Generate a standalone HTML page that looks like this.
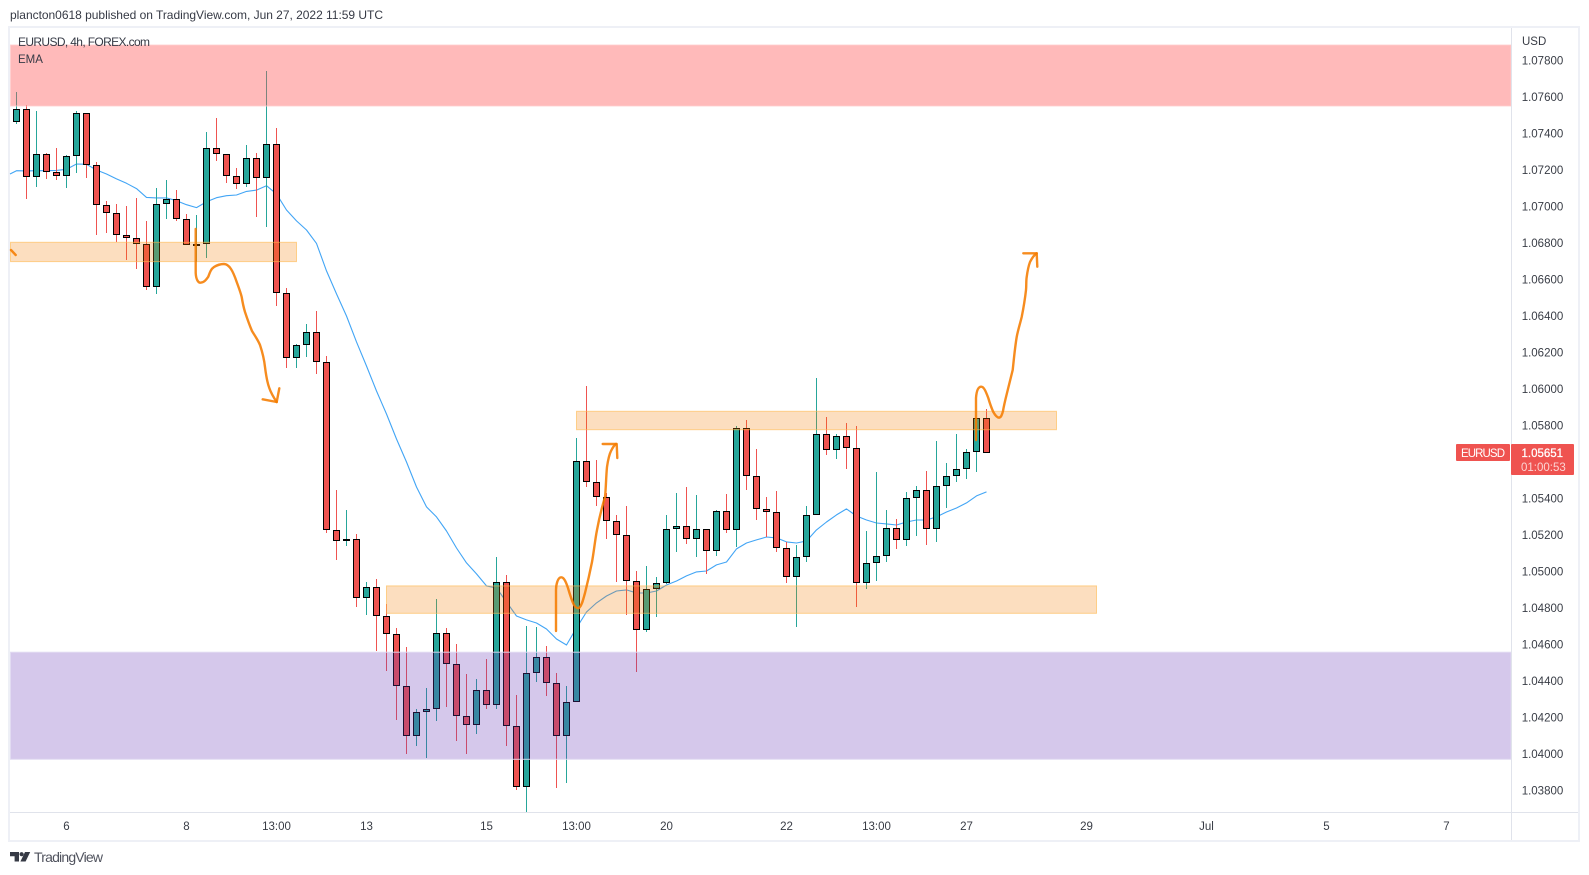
<!DOCTYPE html>
<html lang="en">
<head>
<meta charset="utf-8">
<title>EURUSD 4h chart</title>
<style>
html,body{margin:0;padding:0;background:#fff;}
body{width:1589px;height:875px;overflow:hidden;position:relative;font-family:"Liberation Sans",sans-serif;color:#131722;}
#stage{position:absolute;left:0;top:0;width:1589px;height:875px;}
</style>
</head>
<body>
<svg id="stage" xmlns="http://www.w3.org/2000/svg" width="1589" height="875" viewBox="0 0 1589 875" font-family="'Liberation Sans',sans-serif">
  <rect x="9" y="27" width="1570" height="814" fill="#fff" stroke="#eef0f6" stroke-width="2"/>
  <g id="pane"></g>
  <line x1="1511.5" y1="28" x2="1511.5" y2="840" stroke="#e0e3eb"/>
  <line x1="10" y1="812.5" x2="1578" y2="812.5" stroke="#e0e3eb"/>
  <g id="priceAxis"></g>
  <g id="timeAxis"></g>
  <text x="10" y="19" font-size="12" fill="#363a45" textLength="373" lengthAdjust="spacing">plancton0618 published on TradingView.com, Jun 27, 2022 11:59 UTC</text>
  <text x="18" y="46" font-size="12" fill="#363a45" textLength="132" lengthAdjust="spacing">EURUSD, 4h, FOREX.com</text>
  <text x="18" y="63" font-size="11.5" fill="#363a45">EMA</text>
  <text x="1522" y="45" font-size="11.5" fill="#131722" fill-opacity="0.85">USD</text>
  <g>
    <rect x="1456" y="444" width="54" height="17" rx="1" fill="#ef5350"/>
    <text x="1483" y="457" font-size="11.5" fill="#fff" text-anchor="middle" textLength="44" lengthAdjust="spacing">EURUSD</text>
  </g>
  <g>
    <rect x="1511" y="444" width="63" height="31" rx="1" fill="#ef5350"/>
    <text x="1521.5" y="457" font-size="11.5" fill="#fff" stroke="#fff" stroke-width="0.25">1.05651</text>
    <text x="1521" y="471" font-size="11.5" fill="#fbd4d3">01:00:53</text>
  </g>
  <g>
    <path d="M10 852h9v9.5h-4.4v-5.2H10z" fill="#363a45"/>
    <circle cx="21.6" cy="854.2" r="2.1" fill="#363a45"/>
    <path d="M25 852h5.2l-4.6 9.5h-5.2z" fill="#363a45"/>
    <text x="34" y="862" font-size="14" fill="#50535e" textLength="69" lengthAdjust="spacing">TradingView</text>
  </g>
</svg>
<script>
var barOpens=[1.07461,1.07533,1.07160,1.07286,1.07187,1.07166,1.07275,1.07511,1.07226,1.07007,1.06963,1.06842,1.06830,1.06793,1.06557,1.07012,1.07040,1.06930,1.06788,1.06793,1.07319,1.07286,1.07166,1.07122,1.07264,1.07155,1.07341,1.06525,1.06168,1.06240,1.06311,1.06146,1.05226,1.05166,1.05177,1.04853,1.04914,1.04755,1.04656,1.04371,1.04097,1.04229,1.04245,1.04662,1.04492,1.04207,1.04158,1.04349,1.04267,1.04941,1.04152,1.03818,1.04443,1.04530,1.04388,1.04097,1.04284,1.05604,1.05489,1.05407,1.05275,1.05199,1.04947,1.04678,1.04903,1.04936,1.05232,1.05248,1.05177,1.05232,1.05111,1.05330,1.05226,1.05785,1.05522,1.05341,1.05325,1.05127,1.04969,1.05078,1.05308,1.05752,1.05664,1.05741,1.05675,1.04936,1.05045,1.05084,1.05237,1.05171,1.05401,1.05445,1.05232,1.05467,1.05522,1.05560,1.05653,1.05840];
var barHighs=[1.07627,1.07556,1.07523,1.07295,1.07321,1.07281,1.07523,1.07511,1.07244,1.07029,1.07014,1.07003,1.07047,1.06921,1.07101,1.07145,1.07090,1.06959,1.06954,1.07408,1.07485,1.07286,1.07211,1.07337,1.07293,1.07742,1.07430,1.06552,1.06245,1.06356,1.06428,1.06181,1.05447,1.05337,1.05204,1.04943,1.04959,1.04822,1.04691,1.04587,1.04245,1.04360,1.04850,1.04691,1.04603,1.04439,1.04411,1.04521,1.05080,1.04981,1.04324,1.04702,1.04696,1.04592,1.04444,1.04373,1.05732,1.06017,1.05611,1.05430,1.05310,1.05359,1.05003,1.05030,1.04970,1.05310,1.05429,1.05463,1.05418,1.05232,1.05337,1.05425,1.05797,1.05830,1.05671,1.05408,1.05441,1.05160,1.05145,1.05359,1.06060,1.05847,1.05754,1.05814,1.05797,1.05221,1.05545,1.05337,1.05288,1.05436,1.05469,1.05551,1.05715,1.05595,1.05754,1.05671,1.05840,1.05891];
var barLows=[1.07452,1.07041,1.07109,1.07152,1.07145,1.07101,1.07184,1.07156,1.06846,1.06855,1.06806,1.06707,1.06658,1.06543,1.06521,1.06932,1.06919,1.06788,1.06696,1.06718,1.07251,1.07129,1.07098,1.07105,1.06943,1.06888,1.06457,1.06117,1.06117,1.06177,1.06084,1.05211,1.05065,1.05142,1.04806,1.04764,1.04565,1.04455,1.04187,1.04000,1.04044,1.03978,1.04181,1.04258,1.04072,1.04000,1.04110,1.04247,1.04247,1.04044,1.03803,1.03683,1.04395,1.04318,1.03814,1.03841,1.04284,1.05465,1.05359,1.05178,1.04943,1.04762,1.04450,1.04670,1.04751,1.04932,1.05107,1.05153,1.05081,1.04987,1.05087,1.05211,1.05134,1.05447,1.05282,1.05188,1.05107,1.04937,1.04696,1.05052,1.05308,1.05640,1.05617,1.05562,1.04806,1.04904,1.04950,1.05052,1.05124,1.05142,1.05196,1.05145,1.05162,1.05348,1.05491,1.05507,1.05547,1.05651];
var barCloses=[1.07533,1.07160,1.07286,1.07187,1.07166,1.07275,1.07511,1.07226,1.07007,1.06963,1.06842,1.06830,1.06793,1.06557,1.07012,1.07040,1.06930,1.06788,1.06793,1.07319,1.07286,1.07166,1.07122,1.07264,1.07155,1.07341,1.06525,1.06168,1.06240,1.06311,1.06146,1.05226,1.05166,1.05177,1.04853,1.04914,1.04755,1.04656,1.04371,1.04097,1.04229,1.04245,1.04662,1.04492,1.04207,1.04158,1.04349,1.04267,1.04941,1.04152,1.03818,1.04443,1.04530,1.04388,1.04097,1.04284,1.05604,1.05489,1.05407,1.05275,1.05199,1.04947,1.04678,1.04903,1.04936,1.05232,1.05248,1.05177,1.05232,1.05111,1.05330,1.05226,1.05785,1.05522,1.05341,1.05325,1.05127,1.04969,1.05078,1.05308,1.05752,1.05664,1.05741,1.05675,1.04936,1.05045,1.05084,1.05237,1.05171,1.05401,1.05445,1.05232,1.05467,1.05522,1.05560,1.05653,1.05840,1.05651];
var emaValues=[1.07196,1.07195,1.07196,1.07196,1.07198,1.07204,1.07233,1.07231,1.07200,1.07178,1.07151,1.07127,1.07098,1.07050,1.07047,1.07047,1.07032,1.07010,1.06994,1.07026,1.07048,1.07059,1.07063,1.07083,1.07090,1.07114,1.07069,1.06981,1.06921,1.06871,1.06798,1.06647,1.06521,1.06400,1.06258,1.06126,1.05989,1.05863,1.05726,1.05600,1.05463,1.05354,1.05299,1.05222,1.05129,1.05047,1.04987,1.04921,1.04910,1.04833,1.04756,1.04735,1.04718,1.04685,1.04630,1.04597,1.04691,1.04778,1.04828,1.04866,1.04893,1.04899,1.04882,1.04882,1.04893,1.04926,1.04948,1.04976,1.04998,1.05003,1.05036,1.05052,1.05124,1.05156,1.05173,1.05189,1.05184,1.05162,1.05156,1.05167,1.05228,1.05271,1.05310,1.05343,1.05304,1.05282,1.05266,1.05261,1.05255,1.05271,1.05282,1.05282,1.05299,1.05326,1.05348,1.05376,1.05414,1.05436];
var priceTickLabels=["1.07800","1.07600","1.07400","1.07200","1.07000","1.06800","1.06600","1.06400","1.06200","1.06000","1.05800","1.05400","1.05200","1.05000","1.04800","1.04600","1.04400","1.04200","1.04000","1.03800"];
var timeTickBars=[5,17,26,35,47,56,65,77,86,95,107,119,131,143];
var timeTickLabels=["6","8","13:00","13","15","13:00","20","22","13:00","27","29","Jul","5","7"];
var zoneNames=["resistance-zone-pink","supply-zone-left","resistance-zone-orange","support-zone-orange","demand-zone-purple"];
var zoneTopPrices=[1.07885,1.06804,1.05878,1.04921,1.04558];
var zoneBottomPrices=[1.07551,1.06698,1.05777,1.04771,1.03971];
var zoneStartBars=[-0.6,-0.6,56,37,-0.6];
var zoneEndBars=[149.45,28,104,108,149.45];
var zoneFills=["rgba(255,82,82,0.4)","rgba(245,124,0,0.25)","rgba(245,124,0,0.25)","rgba(245,124,0,0.25)","rgba(103,58,183,0.28)"];
var zoneStrokes=["rgba(255,205,205,0.8)","rgba(255,183,77,0.6)","rgba(255,183,77,0.6)","rgba(255,183,77,0.6)","rgba(225,218,242,0.9)"];

var SVG_NS="http://www.w3.org/2000/svg";
function xOfBar(i){return 16.5+10*i;}
function yOfPrice(p){return 60.5+(1.078-p)/0.002*36.5;}
function mk(tag,attrs,parent){
  var el=document.createElementNS(SVG_NS,tag);
  for(var k in attrs){el.setAttribute(k,attrs[k]);}
  parent.appendChild(el);
  return el;
}
var pane=document.getElementById("pane");

/* EMA line sits beneath the candles */
var emaPts=[];
for(var e=0;e<emaValues.length;e++){emaPts.push(xOfBar(e)+","+yOfPrice(emaValues[e]).toFixed(1));}
var emaStart=xOfBar(0)-6.5;
var emaLine=mk("polyline",{points:emaStart+","+(yOfPrice(emaValues[0])+3.3).toFixed(1)+" "+emaPts.join(" "),fill:"none",stroke:"#42a5f5","stroke-width":"1.1","stroke-linejoin":"round"},pane);



/* Candles */
for(var i=0;i<barCloses.length;i++){
  var up=barCloses[i]>=barOpens[i];
  var col=up?"#26a69a":"#ef5350";
  var candle=mk("g",{},pane);
  
  
  var cx=xOfBar(i);
  var wick=mk("line",{x1:cx,x2:cx,y1:Math.round(yOfPrice(barHighs[i])),y2:Math.round(yOfPrice(barLows[i])),stroke:col,"stroke-width":1,"shape-rendering":"crispEdges"},candle);
  
  
  var bodyTop=Math.round(yOfPrice(Math.max(barOpens[i],barCloses[i])));
  var bodyBot=Math.round(yOfPrice(Math.min(barOpens[i],barCloses[i])));
  var body=mk("rect",{x:cx-3,y:bodyTop+0.5,width:6,height:Math.max(bodyBot-bodyTop-1,1),fill:col,stroke:"#000","stroke-width":1,"shape-rendering":"crispEdges"},candle);
  
  
}

/* Shaded zones drawn above candles */
for(var z=0;z<zoneNames.length;z++){
  var zx0=xOfBar(zoneStartBars[z]),zx1=xOfBar(zoneEndBars[z]);
  var zy0=yOfPrice(zoneTopPrices[z]),zy1=yOfPrice(zoneBottomPrices[z]);
  var zr=mk("rect",{x:zx0.toFixed(1),y:zy0.toFixed(1),width:(zx1-zx0).toFixed(1),height:(zy1-zy0).toFixed(1),fill:zoneFills[z],stroke:zoneStrokes[z],"stroke-width":1},pane);
  
  
}

/* Hand-drawn brush annotations */
var brushNames=["brush-tick-left","brush-drop-arrow","brush-drop-arrow-head","brush-bounce-arrow","brush-bounce-arrow-head","brush-breakout-arrow","brush-breakout-arrow-head"];
var brushPaths=[
 "M11 250L15.7 255",
 "M195.7 229L195.7 273C196 279 198 283 200.5 282.7C204 282.5 206 280 208.3 276.7C210 272 211 269 214 267C218 264.5 221 264 224 264C227 264 229 266 231 269C233 272 235 277 236.7 282C238.5 287 240.5 292 241.7 297C242.5 302 243.5 307 245 312C247 318 249 324 252 331C255 336 258 340 260 345C262 351 264 358 265 367C266 375 267 382 269.3 388C271 393 274 398 276.7 402",
 "M262.7 399.3L276.7 402L279.3 388.3",
 "M556 631L556 590C556 584 558 577.5 561 577.3C564 577 566 582 568 588C570 595 572 601 574 605C576 608 578 609 579.5 607.5C582 605 583 600 585 593C587 585 590 572 592 562C594 551 595 540 597 530C599 519 602 507 605 497C606 488 606 477 607 467C608 460 609 455 611 451C612.5 448 614 445 616 444",
 "M602.7 444L616.7 444L617.3 458",
 "M976 440L976 398C976.5 391 978 387 981 386.7C984 386.5 986 392 988.3 398C990 404 991.5 408 993.3 412C995 415 997 417.5 999 417.7C1001 417.5 1002 415 1003 411C1004 405 1005.5 399 1007 393C1009 385 1011 377 1012.7 370C1014 358 1015 347 1016.7 337C1018 330 1020 324 1021.7 317C1023.5 308 1025 299 1026 290C1026.5 285 1026 281 1026.7 277C1027.5 271 1028.5 266 1030 262C1032 258 1034 255 1036.7 253.3",
 "M1023.3 253.3L1036.7 253.3L1037.3 266.7"
];
for(var b=0;b<brushNames.length;b++){
  var br=mk("path",{d:brushPaths[b],fill:"none",stroke:"#f57c00","stroke-width":"2.4","stroke-linecap":"round","stroke-linejoin":"round","stroke-opacity":"0.88"},pane);
  
  
}

/* Axes */
var priceAxis=document.getElementById("priceAxis");
for(var t=0;t<priceTickLabels.length;t++){
  var pt=mk("text",{x:1521.7,y:(yOfPrice(parseFloat(priceTickLabels[t]))+3.8).toFixed(1),"font-size":"11.5",fill:"#131722","fill-opacity":"0.85"},priceAxis);
  pt.textContent=priceTickLabels[t];
  
  
}
var timeAxis=document.getElementById("timeAxis");
for(var s=0;s<timeTickLabels.length;s++){
  var tt=mk("text",{x:xOfBar(timeTickBars[s]),y:830,"font-size":"11.5",fill:"#131722","fill-opacity":"0.85","text-anchor":"middle"},timeAxis);
  tt.textContent=timeTickLabels[s];
  
  
}
</script>
</body>
</html>
